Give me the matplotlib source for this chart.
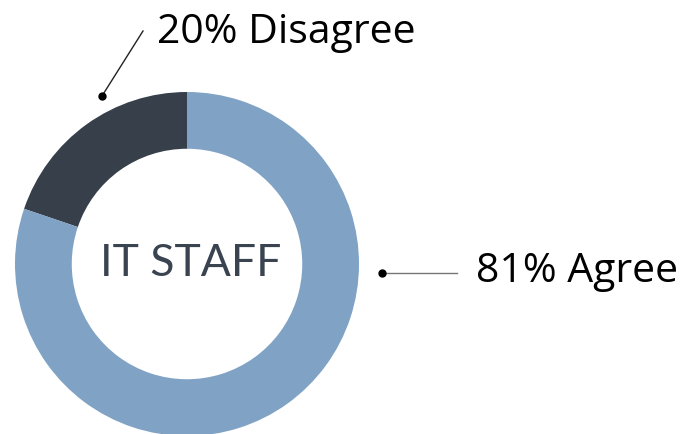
import matplotlib
matplotlib.use("Agg")
import matplotlib.pyplot as plt

# data
labels = ["Disagree", "Agree"]
values = [20, 81]
colors = ["#363f4a", "#7fa2c5"]
center_label = "IT STAFF"

W, H = 697, 435
fig = plt.figure(figsize=(W / 100, H / 100), dpi=100)
ax = fig.add_axes([0, 0, 1, 1])

cx, cy, r = 187, H - 265, 172
ax.pie(values, colors=colors, startangle=90, counterclock=True,
       center=(cx, cy), radius=r, frame=True,
       wedgeprops=dict(width=r * 0.33, linewidth=0))
ax.set_xlim(0, W)
ax.set_ylim(0, H)
ax.set_aspect("equal")
ax.axis("off")

ax.text(cx + 4, cy + 2, center_label, ha="center", va="center", fontsize=32,
        family="Lato", fontweight="normal", color="#3a4350")

# callouts
ax.plot([102, 143], [H - 97, H - 32], color="#222222", lw=1)
ax.plot([102], [H - 97], "o", color="black", ms=5)
ax.text(157, H - 33, f"{values[0]}% {labels[0]}", ha="left", va="center",
        fontsize=29.5, family="Open Sans", color="black")

ax.plot([382, 457], [H - 274, H - 274], color="#777777", lw=1)
ax.plot([382], [H - 274], "o", color="black", ms=5)
ax.text(476, H - 272, f"{values[1]}% {labels[1]}", ha="left", va="center",
        fontsize=29.5, family="Open Sans", color="black")

fig.savefig("out.png", dpi=100)
